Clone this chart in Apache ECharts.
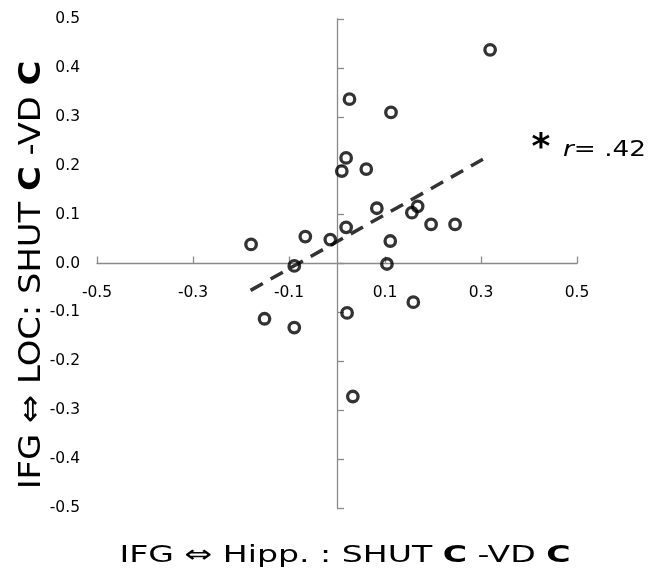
<!DOCTYPE html>
<html>
<head>
<meta charset="utf-8">
<script src="https://cdn.jsdelivr.net/npm/echarts@6/dist/echarts.min.js"></script>
<style>
  html, body { margin: 0; padding: 0; background: #fff; }
  #chart { width: 661px; height: 576px; }
</style>
</head>
<body>
<div id="chart"></div>
<script>
// subject values: x = IFG-Hipp, y = IFG-LOC
const xVals = [-0.179, -0.066, -0.014, 0.019, -0.089, 0.010, 0.019, 0.061, 0.026, 0.083,
               0.319, 0.1125, 0.156, 0.168, 0.196, 0.246, 0.111, 0.104, -0.151, -0.089,
               0.021, 0.033, 0.159];
const yVals = [0.039, 0.055, 0.049, 0.074, -0.005, 0.189, 0.216, 0.193, 0.336, 0.113,
               0.437, 0.309, 0.104, 0.117, 0.080, 0.080, 0.046, -0.001, -0.113, -0.131,
               -0.101, -0.272, -0.079];
// dashed fit line end points
const fitX = [-0.18, 0.304];
const fitY = [-0.055, 0.213];
const corrLabel = '.42';

const font = '"DejaVu Sans", Verdana, sans-serif';
const axisGray = '#8a8a8a';

const chart = echarts.init(document.getElementById('chart'));

// grid box: top 19, height 489 -> y=0 sits half way down
const gridTop = 19, gridH = 489;

const option = {
    animation: false,
    backgroundColor: '#fff',
    grid: { left: 97, right: 84, top: gridTop, height: gridH },
    xAxis: {
        type: 'value',
        min: -0.5, max: 0.5, interval: 0.2,
        offset: -gridH / 2,   // put the x axis (and its labels) at y = 0
        splitLine: { show: false },
        axisLine: { onZero: false, lineStyle: { color: axisGray, width: 1.3 } },
        axisTick: { inside: true, length: 7, lineStyle: { color: axisGray, width: 1.3 } },
        axisLabel: {
            margin: 21, fontSize: 15.5, color: '#000', fontFamily: font,
            formatter: v => v.toFixed(1),
            showMinLabel: true, showMaxLabel: true
        }
    },
    yAxis: {
        type: 'value',
        min: -0.5, max: 0.5, interval: 0.1,
        splitLine: { show: false },
        axisLine: { onZero: true, lineStyle: { color: axisGray, width: 1.3 } },
        axisTick: { inside: true, length: 7, lineStyle: { color: axisGray, width: 1.3 } },
        axisLabel: {
            margin: 17, fontSize: 15.5, color: '#000', fontFamily: font,
            padding: [4, 0, 0, 0],
            formatter: v => v.toFixed(1),
            showMinLabel: true, showMaxLabel: true
        }
    },
    series: [
        {
            type: 'line',
            data: fitX.map((x, i) => [x, fitY[i]]),
            symbol: 'none',
            lineStyle: { color: '#333', width: 3.5, type: [14, 9] },
            z: 1
        },
        {
            type: 'scatter',
            data: xVals.map((x, i) => [x, yVals[i]]),
            symbol: 'circle',
            symbolSize: 10.5,
            itemStyle: { color: 'rgba(255,255,255,0)', borderColor: '#000', borderWidth: 3.3 },
            z: 2
        }
    ],
    graphic: [
        {
            // x title, text in the source is stretched sideways
            type: 'text',
            x: 345, y: 556,
            scaleX: 1.41,
            style: {
                text: '{n|IFG ⇔ Hipp. : SHUT }{b|C}{n| -VD }{b|C}',
                align: 'center', verticalAlign: 'middle',
                rich: {
                    n: { fontSize: 23.5, fontFamily: font, fill: '#000' },
                    b: { fontSize: 23.5, fontFamily: font, fontWeight: 'bold', fill: '#000' }
                }
            }
        },
        {
            type: 'text',
            x: 32, y: 275,
            rotation: Math.PI / 2,
            scaleX: 1.09,
            style: {
                text: '{n|IFG ⇔ LOC: SHUT }{b|C}{n| -VD }{b|C}',
                align: 'center', verticalAlign: 'middle',
                rich: {
                    n: { fontSize: 31, fontFamily: font, fill: '#000' },
                    b: { fontSize: 31, fontFamily: font, fontWeight: 'bold', fill: '#000' }
                }
            }
        },
        {
            type: 'text',
            x: 541, y: 149,
            style: {
                text: '*', fontSize: 36, fontWeight: 'bold', fontFamily: font, fill: '#000',
                align: 'center', verticalAlign: 'middle'
            }
        },
        {
            type: 'text',
            x: 563, y: 151,
            scaleX: 1.25,
            style: {
                text: '{i|r}{n|= ' + corrLabel + '}',
                verticalAlign: 'middle',
                rich: {
                    i: { fontSize: 21, fontFamily: font, fontStyle: 'italic', fill: '#000' },
                    n: { fontSize: 21, fontFamily: font, fill: '#000' }
                }
            }
        }
    ]
};

chart.setOption(option);
</script>
</body>
</html>
